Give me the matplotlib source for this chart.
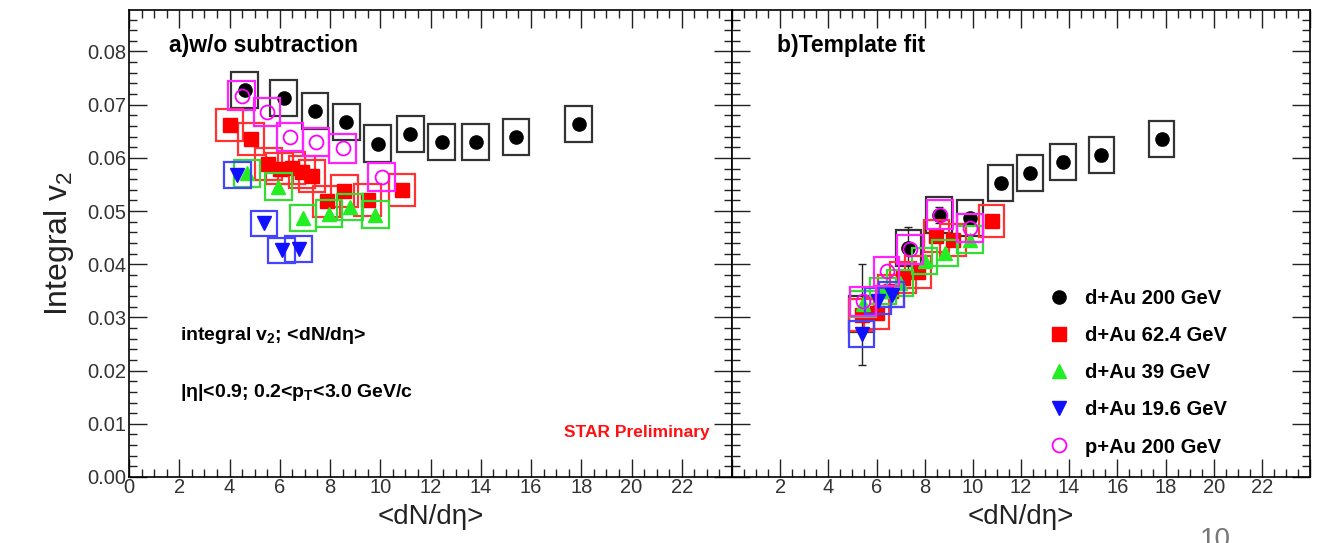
import matplotlib
matplotlib.use('Agg')
import matplotlib.pyplot as plt
from matplotlib.patches import Rectangle
from matplotlib.lines import Line2D
from matplotlib.ticker import MultipleLocator

plt.rcParams['font.family'] = ['Liberation Sans', 'DejaVu Sans']
plt.rcParams['mathtext.fontset'] = 'custom'
plt.rcParams['mathtext.rm'] = 'Liberation Sans'
plt.rcParams['mathtext.it'] = 'Liberation Sans:italic'
plt.rcParams['mathtext.bf'] = 'Liberation Sans:bold'

labels = ['d+Au 200 GeV', 'd+Au 62.4 GeV', 'd+Au 39 GeV', 'd+Au 19.6 GeV', 'p+Au 200 GeV']

# panel a) w/o subtraction
dau200_x_a = [4.6, 6.15, 7.4, 8.65, 9.9, 11.2, 12.45, 13.8, 15.4, 17.9]
dau200_y_a = [0.0727, 0.0712, 0.0688, 0.0667, 0.0627, 0.0645, 0.0630, 0.0630, 0.0639, 0.0664]
dau62_x_a = [4.0, 4.85, 5.55, 6.0, 6.48, 6.88, 7.28, 7.87, 8.57, 9.5, 10.86]
dau62_y_a = [0.0661, 0.0635, 0.0589, 0.0580, 0.0581, 0.0574, 0.0566, 0.0518, 0.0538, 0.0521, 0.0540]
dau39_x_a = [4.69, 5.95, 6.93, 7.96, 8.8, 9.8]
dau39_y_a = [0.0571, 0.0546, 0.0487, 0.0495, 0.0508, 0.0493]
dau19_x_a = [4.31, 5.38, 6.08, 6.75]
dau19_y_a = [0.0568, 0.0477, 0.0426, 0.0429]
pau200_x_a = [4.49, 5.49, 6.41, 7.45, 8.5, 10.06]
pau200_y_a = [0.0717, 0.0686, 0.0639, 0.0630, 0.0618, 0.0564]

# panel b) template fit
dau200_x_b = [5.38, 7.32, 8.6, 9.88, 11.15, 12.37, 13.75, 15.34, 17.84]
dau200_y_b = [0.0306, 0.0430, 0.0493, 0.0487, 0.0552, 0.0571, 0.0593, 0.0605, 0.0635]
dau200_e_b = [0.0095, 0.004, 0.0015, 0.001, 0.001, 0.001, 0.001, 0.001, 0.001]
dau62_x_b = [5.38, 6.0, 6.6, 7.1, 7.73, 8.49, 9.18, 10.78]
dau62_y_b = [0.0305, 0.0309, 0.0350, 0.0375, 0.0385, 0.0453, 0.0445, 0.0482]
dau39_x_b = [5.44, 6.27, 6.97, 8.0, 8.84, 9.88]
dau39_y_b = [0.0325, 0.0350, 0.0365, 0.0406, 0.0421, 0.0446]
dau19_x_b = [5.38, 6.06, 6.63]
dau19_y_b = [0.0269, 0.0331, 0.0343]
pau200_x_b = [5.44, 6.42, 7.39, 8.63, 9.88]
pau200_y_b = [0.0330, 0.0387, 0.0428, 0.0493, 0.0468]

# systematic half-heights per series
sys_err = [0.0034, 0.0030, 0.0025, 0.0024, 0.0027]

colors = ['black', '#ff0000', '#22ee22', '#1010ff', '#ff00ff']
box_colors = ['#333333', '#ff3333', '#33dd33', '#4444ff', '#ff22ff']
markers = ['o', 's', '^', 'v', 'o']
msizes = [9.5, 9.5, 9.5, 9.5, 10]

fig = plt.figure(figsize=(13.25, 5.43), dpi=100)
W, H = 1325, 543
ax1 = fig.add_axes([129 / W, 1 - 477 / H, 603 / W, 467 / H])
ax2 = fig.add_axes([732 / W, 1 - 477 / H, 578 / W, 467 / H])

def draw(ax, xs, ys, errs=None):
    for i, (x, y) in enumerate(zip(xs, ys)):
        for xi, yi in zip(x, y):
            ax.add_patch(Rectangle((xi - 0.53, yi - sys_err[i]), 1.06, 2 * sys_err[i],
                                   fill=False, edgecolor=box_colors[i], lw=1.6, zorder=2 + i))
        if errs is not None and errs[i] is not None:
            ax.errorbar(x, y, yerr=errs[i], fmt='none', ecolor='#222222', elinewidth=1,
                        capsize=3, capthick=1, zorder=2 + i)
        if i == 4:
            ax.plot(x, y, ls='none', marker=markers[i], ms=msizes[i], mfc='none',
                    mec=colors[i], mew=1.3, zorder=2.5 + i)
        else:
            ax.plot(x, y, ls='none', marker=markers[i], ms=msizes[i], color=colors[i],
                    zorder=2.5 + i)

draw(ax1, [dau200_x_a, dau62_x_a, dau39_x_a, dau19_x_a, pau200_x_a],
     [dau200_y_a, dau62_y_a, dau39_y_a, dau19_y_a, pau200_y_a])
draw(ax2, [dau200_x_b, dau62_x_b, dau39_x_b, dau19_x_b, pau200_x_b],
     [dau200_y_b, dau62_y_b, dau39_y_b, dau19_y_b, pau200_y_b],
     errs=[dau200_e_b, None, None, None, None])

for ax in (ax1, ax2):
    ax.set_xlim(0, 24)
    ax.set_ylim(0, 0.0878)
    ax.xaxis.set_major_locator(MultipleLocator(2))
    ax.xaxis.set_minor_locator(MultipleLocator(0.5))
    ax.yaxis.set_major_locator(MultipleLocator(0.01))
    ax.yaxis.set_minor_locator(MultipleLocator(0.002))
    ax.tick_params(which='both', direction='in', top=True, right=True, width=1, color='#222222')
    ax.tick_params(which='major', length=13)
    ax.tick_params(which='minor', length=6)
    ax.tick_params(axis='both', labelsize=14.5, labelcolor='#333333')
    ax.tick_params(axis='x', pad=1)
    ax.tick_params(axis='y', pad=2)
    for s in ax.spines.values():
        s.set_linewidth(1.2)
    ax.set_xlabel('<dN/d\u03b7>', fontsize=20, labelpad=5, color='#222222')
    ax.set_xticks(range(0, 25, 2))

ax1.set_xticklabels([str(v) if v < 24 else '' for v in range(0, 25, 2)])
ax2.set_xticklabels([str(v) if 0 < v < 24 else '' for v in range(0, 25, 2)])
ax1.set_yticks([0.0, 0.01, 0.02, 0.03, 0.04, 0.05, 0.06, 0.07, 0.08])
ax1.set_yticklabels(['0.00', '0.01', '0.02', '0.03', '0.04', '0.05', '0.06', '0.07', '0.08'])
ax2.tick_params(axis='y', labelleft=False)
ax1.set_ylabel('Integral v$_\\mathregular{2}$', fontsize=23, labelpad=8, color='#222222')

ax1.text(0.066, 0.925, 'a)w/o subtraction', transform=ax1.transAxes, fontsize=16.5,
         fontweight='bold', va='center')
ax2.text(0.078, 0.925, 'b)Template fit', transform=ax2.transAxes, fontsize=16.5,
         fontweight='bold', va='center')
ax1.text(0.085, 0.302, 'integral v$_\\mathregular{2}$; <dN/d\u03b7>', transform=ax1.transAxes,
         fontsize=14, fontweight='bold', va='center')
ax1.text(0.085, 0.182, '|\u03b7|<0.9; 0.2<p$_\\mathregular{T}$<3.0 GeV/c', transform=ax1.transAxes,
         fontsize=14, fontweight='bold', va='center')
ax1.text(0.963, 0.096, 'STAR Preliminary', transform=ax1.transAxes, fontsize=12.5,
         fontweight='bold', color='#ff1111', ha='right', va='center')

handles = []
for i in range(5):
    if i == 4:
        handles.append(Line2D([], [], ls='none', marker=markers[i], ms=msizes[i], mfc='none',
                              mec=colors[i], mew=1.3))
    else:
        handles.append(Line2D([], [], ls='none', marker=markers[i], ms=msizes[i], color=colors[i]))
ax2.legend(handles, labels, loc='lower left', bbox_to_anchor=(0.513, 0.005), frameon=False,
           prop={'weight': 'bold', 'size': 14.5}, labelspacing=0.9, handletextpad=0.7,
           handlelength=1.2)

fig.text(1215 / W, 1 - 527 / H, '10', fontsize=20, color='#777777', ha='center', va='top')

fig.savefig('out.png', dpi=100)
